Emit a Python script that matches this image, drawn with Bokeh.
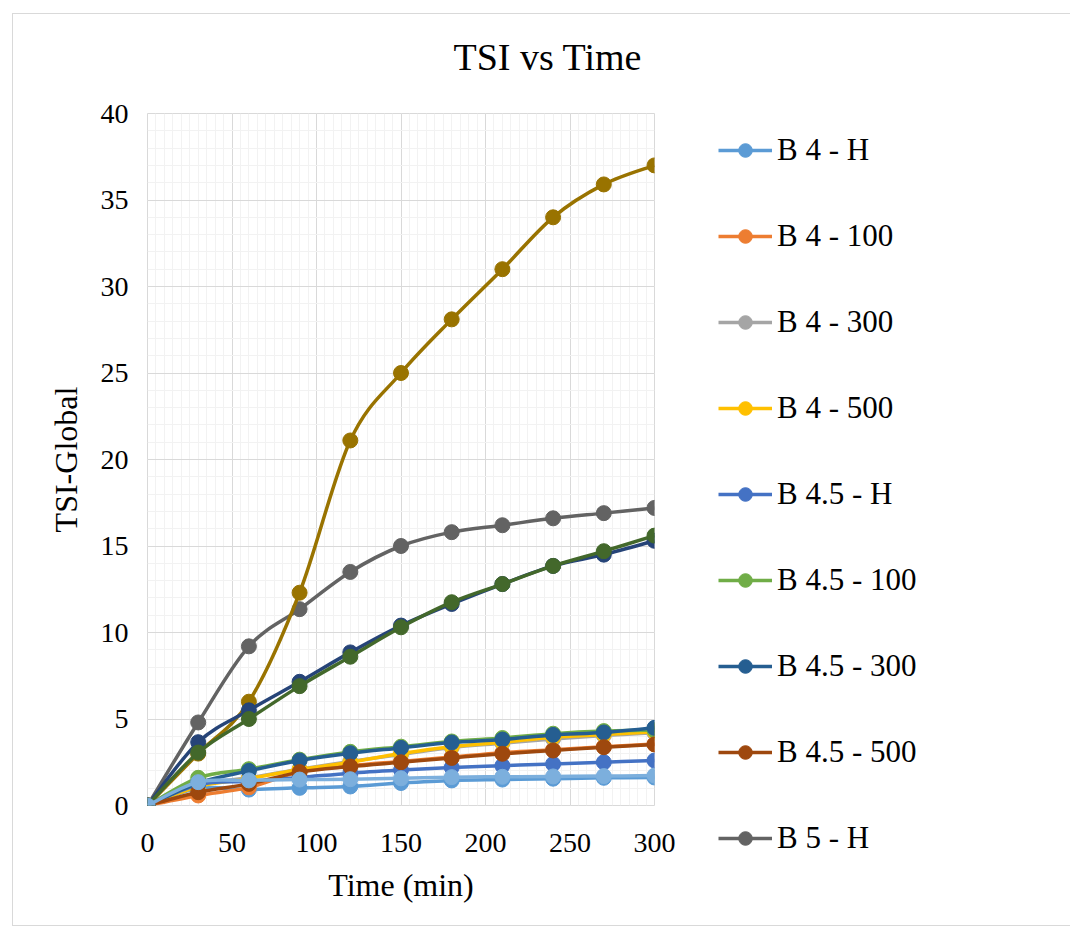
import numpy as np
from bokeh.plotting import figure
from bokeh.models import ColumnDataSource, Legend, LegendItem, SingleIntervalTicker, Title
from bokeh.embed import file_html
from bokeh.resources import INLINE

# ---------------- data ----------------
time_min = [0, 30, 60, 90, 120, 150, 180, 210, 240, 270, 300]

series_names = ["B 4 - H", "B 4 - 100", "B 4 - 300", "B 4 - 500",
                "B 4.5 - H", "B 4.5 - 100", "B 4.5 - 300", "B 4.5 - 500",
                "B 5 - H", "B 5 - 100", "B 5 - 300", "B 5 - 500", "B 5.5 - H"]

b4_h = [0, 1.0, 0.92, 1.02, 1.1, 1.3, 1.45, 1.5, 1.55, 1.6, 1.62]
b4_100 = [0, 0.58, 1.05, 1.95, 2.3, 2.55, 2.8, 3.05, 3.22, 3.4, 3.55]
b4_300 = [0, 1.2, 1.6, 2.1, 2.55, 2.95, 3.35, 3.6, 3.85, 4.05, 4.2]
b4_500 = [0, 1.1, 1.55, 2.08, 2.5, 3.0, 3.4, 3.65, 3.95, 4.1, 4.27]
b45_h = [0, 1.2, 1.4, 1.62, 1.87, 2.05, 2.2, 2.3, 2.4, 2.5, 2.6]
b45_100 = [0, 1.6, 2.1, 2.65, 3.1, 3.4, 3.7, 3.9, 4.15, 4.3, 4.35]
b45_300 = [0, 1.3, 2.0, 2.6, 3.02, 3.33, 3.64, 3.81, 4.08, 4.22, 4.49]
b45_500 = [0, 0.77, 1.25, 1.93, 2.25, 2.5, 2.75, 2.99, 3.18, 3.37, 3.53]
b5_h = [0, 4.8, 9.2, 11.35, 13.5, 15.0, 15.8, 16.2, 16.6, 16.9, 17.2]
b5_100 = [0, 3.0, 6.0, 12.3, 21.1, 25.0, 28.1, 31.0, 34.0, 35.9, 37.0]
b5_300 = [0, 3.66, 5.5, 7.15, 8.85, 10.4, 11.65, 12.8, 13.85, 14.5, 15.3]
b5_500 = [0, 3.06, 5.0, 6.9, 8.6, 10.3, 11.75, 12.8, 13.85, 14.7, 15.6]
b55_h = [0, 1.35, 1.45, 1.5, 1.52, 1.57, 1.64, 1.66, 1.68, 1.7, 1.73]

series_values = [b4_h, b4_100, b4_300, b4_500, b45_h, b45_100, b45_300, b45_500,
                 b5_h, b5_100, b5_300, b5_500, b55_h]

series_colors = ["#5B9BD5", "#ED7D31", "#A5A5A5", "#FFC000", "#4472C4", "#70AD47",
                 "#255E91", "#9E480E", "#636363", "#997300", "#264478", "#43682B",
                 "#7CAFDD"]

legend_count = 9  # entries visible in the (clipped) legend

x_ticks_interval = 50
y_ticks_interval = 5

FONT = "Liberation Serif"


def smooth_source(xs, ys):
    """Bezier control points (Excel-like smoothed line) derived from the data."""
    x = np.asarray(xs, float)
    y = np.asarray(ys, float)
    n = len(x)
    qx = np.concatenate([[x[0]], x, [x[-1]]])
    qy = np.concatenate([[y[0]], y, [y[-1]]])
    cx0 = x[:-1] + (qx[2:n + 1] - qx[0:n - 1]) / 6.0
    cy0 = y[:-1] + (qy[2:n + 1] - qy[0:n - 1]) / 6.0
    cx1 = x[1:] - (qx[3:n + 2] - qx[1:n]) / 6.0
    cy1 = y[1:] - (qy[3:n + 2] - qy[1:n]) / 6.0
    return ColumnDataSource(dict(x0=x[:-1], y0=y[:-1], x1=x[1:], y1=y[1:],
                                 cx0=cx0, cy0=cy0, cx1=cx1, cy1=cy1))


# ---------------- figure ----------------
p = figure(frame_width=507, frame_height=692,
           min_border_left=134, min_border_right=416,
           min_border_top=99, min_border_bottom=120,
           x_range=(0, 300), y_range=(0, 40),
           output_backend="svg", toolbar_location=None,
           background_fill_color="white", border_fill_color="white")

p.styles = {"border-left": "1px solid #D9D9D9",
            "border-top": "1px solid #D9D9D9",
            "border-bottom": "1px solid #D9D9D9",
            "margin-left": "12px", "margin-top": "13px"}

p.outline_line_color = "#D9D9D9"

spacer = Title(text=" ", text_font_size="2px", standoff=8)
p.add_layout(spacer, "above")
title = Title(text="TSI vs Time", align="left", offset=306,
              text_font=FONT, text_font_size="38px", text_font_style="normal",
              text_color="black", standoff=43, vertical_align="top")
p.add_layout(title, "above")

p.xaxis.ticker = SingleIntervalTicker(interval=x_ticks_interval, num_minor_ticks=10)
p.yaxis.ticker = SingleIntervalTicker(interval=y_ticks_interval, num_minor_ticks=5)

for ax in (p.xaxis, p.yaxis):
    ax.axis_line_color = None
    ax.major_tick_line_color = None
    ax.minor_tick_line_color = None
    ax.major_tick_out = 0
    ax.major_tick_in = 0
    ax.minor_tick_out = 0
    ax.minor_tick_in = 0
    ax.major_label_text_font = FONT
    ax.major_label_text_font_size = "28px"
    ax.major_label_text_color = "black"
    ax.axis_label_text_font = FONT
    ax.axis_label_text_font_size = "32px"
    ax.axis_label_text_font_style = "normal"
    ax.axis_label_text_color = "black"

p.xaxis.axis_label = "Time (min)"
p.yaxis.axis_label = "TSI-Global"
p.xaxis.major_label_standoff = 28
p.xaxis.axis_label_standoff = 12
p.yaxis.major_label_standoff = 19
p.yaxis.axis_label_standoff = 14

for g in (p.xgrid, p.ygrid):
    g.grid_line_color = "#D9D9D9"
    g.grid_line_width = 1
    g.minor_grid_line_color = "#F2F2F2"
    g.minor_grid_line_width = 1

# ---------------- series ----------------
legend_items = []
for name, vals, col in zip(series_names, series_values, series_colors):
    src = smooth_source(time_min, vals)
    bz = p.bezier(x0="x0", y0="y0", x1="x1", y1="y1", cx0="cx0", cy0="cy0",
                  cx1="cx1", cy1="cy1", source=src, line_color=col, line_width=3.5)
    sc = p.scatter(time_min, vals, marker="circle", size=15,
                   fill_color=col, line_color=col)
    if len(legend_items) < legend_count:
        legend_items.append(LegendItem(label=name, renderers=[bz, sc]))

legend = Legend(items=legend_items, location=(64, -51),
                orientation="vertical", padding=0, margin=0,
                spacing=50, glyph_width=54, glyph_height=34, label_height=34,
                label_standoff=5, label_text_font=FONT, label_text_font_size="31px",
                label_text_color="black", border_line_alpha=0,
                background_fill_alpha=0)
p.add_layout(legend, "right")

open("out.html", "w").write(file_html(p, INLINE))
